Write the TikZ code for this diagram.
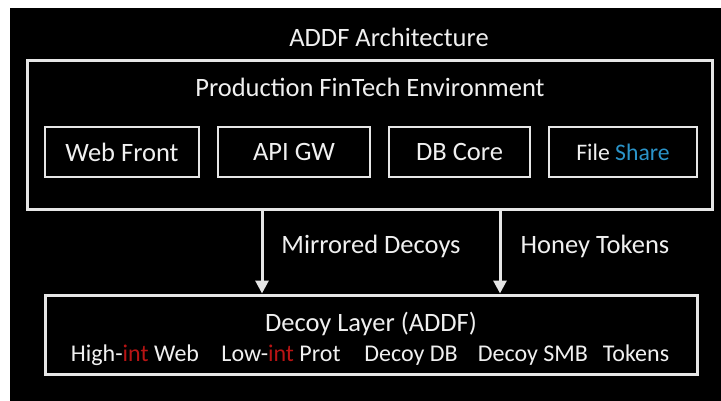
\documentclass[tikz,border=0pt]{standalone}
\usepackage{fontspec}
\setmainfont{Carlito}
\usetikzlibrary{arrows.meta,positioning}
\definecolor{ink}{HTML}{F0F0F0}
\definecolor{edge}{HTML}{E6E6E6}
\definecolor{intred}{HTML}{B81414}
\definecolor{shareblue}{HTML}{2A93C8}
\tikzset{
  flow/.style={-{Triangle[length=13pt,width=13pt]},line width=3pt,edge},
  box/.style={draw=edge,line width=2.5pt,minimum height=50pt,text=ink,font=\fontsize{26.5}{30}\selectfont},
  frame/.style={draw=edge,line width=3pt},
  labeltext/.style={text=ink,font=\fontsize{26.5}{30}\selectfont},
  itemtext/.style={text=ink,anchor=base,font=\fontsize{24}{28}\selectfont}
}

\begin{document}
\begin{tikzpicture}[x=1pt,y=-1pt]
\useasboundingbox (0,0) rectangle (721,401);
\fill[white] (0,0) rectangle (721,401);
\fill[black] (10,8) rectangle (721,401);
\node[labeltext] (title) at (389,37) {ADDF Architecture};
\node[frame,minimum width=685pt,minimum height=149pt] (prod) at (369.5,135.5) {};
\node[labeltext] (prodname) at (370,87) {Production FinTech Environment};
\node[box,minimum width=154pt] (web) at (122,152) {Web Front};
\node[box,minimum width=152pt] (api) at (294,152) {API GW};
\node[box,minimum width=141pt] (db) at (459.5,152) {DB Core};
\node[box,minimum width=148pt,font=\fontsize{23.7}{28}\selectfont] (file) at (623,152) {File \textcolor{shareblue}{Share}};
\node[frame,minimum width=652pt,minimum height=79pt] (decoy) at (371,334.5) {};
\node[labeltext] (decoyname) at (371,324) {Decoy Layer (ADDF)};
\node[itemtext] (hiweb) at (135,361) {High-\textcolor{intred}{int} Web};
\node[itemtext] (loprot) at (281,361) {Low-\textcolor{intred}{int} Prot};
\node[itemtext] (decoydb) at (411,361) {Decoy DB};
\node[itemtext] (decoysmb) at (533,361) {Decoy SMB};
\node[itemtext] (tokens) at (636,361) {Tokens};
\coordinate (left) at (262,250);
\coordinate (right) at (500,250);
\draw[flow] (prod.south -| left) -- (decoy.north -| left);
\draw[flow] (prod.south -| right) -- (decoy.north -| right);
\node[labeltext] (mirrored) at (371,246) {Mirrored Decoys};
\node[labeltext] (honey) at (595,246) {Honey Tokens};
\end{tikzpicture}
\end{document}
